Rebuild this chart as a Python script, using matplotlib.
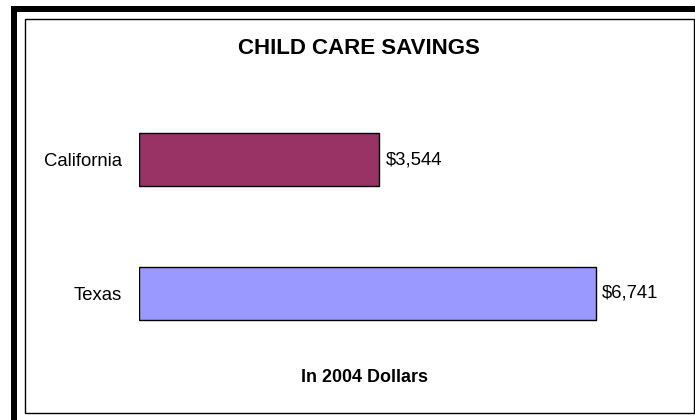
import matplotlib.pyplot as plt
from matplotlib.patches import Rectangle

states = ["California", "Texas"]
savings = [3544, 6741]
colors = ["#993366", "#9999FF"]

plt.rcParams['font.family'] = ['Liberation Sans', 'DejaVu Sans']

W, H = 695, 420
fig = plt.figure(figsize=(W / 100, H / 100), dpi=100)


def px(x, y):
    # pixel coords (from top-left) to figure fraction
    return x / W, 1 - y / H


# heavy black rule on left and top, thin frame inside
fig.patches.append(Rectangle(px(11, 420), 6 / W, 414 / H, transform=fig.transFigure,
                             facecolor="black", edgecolor="none"))
fig.patches.append(Rectangle(px(11, 12), 684 / W, 6 / H, transform=fig.transFigure,
                             facecolor="black", edgecolor="none"))
fig.patches.append(Rectangle(px(24.5, 412.5), 669.5 / W, 393.5 / H, transform=fig.transFigure,
                             facecolor="none", edgecolor="black", linewidth=1))

# bar area: value 0 at x=139, 6741 at x=596
xmax = 7500
scale = (596 - 139) / 6741
left, right = 139, 139 + xmax * scale
top, bottom = 92.9, 360.1
ax = fig.add_axes([left / W, 1 - bottom / H, (right - left) / W, (bottom - top) / H])

y = range(len(states))
ax.barh(y, savings, height=0.4, color=colors, edgecolor="black", linewidth=1)
for i, v in enumerate(savings):
    ax.annotate(f"${v:,}", (v, i), xytext=(4.5, 0), textcoords="offset points",
                va="center", ha="left", fontsize=13.3)

ax.set_xlim(0, xmax)
ax.set_ylim(1.5, -0.5)
ax.set_yticks(list(y), states, fontsize=13.3)
ax.tick_params(axis="y", length=0, pad=12)
ax.set_xticks([])
for s in ax.spines.values():
    s.set_visible(False)
ax.patch.set_visible(False)

fig.text(*px(358.5, 48), "CHILD CARE SAVINGS", ha="center", va="center",
         fontsize=16, fontweight="bold")
fig.text(*px(364, 378), "In 2004 Dollars", ha="center", va="center",
         fontsize=12.9, fontweight="bold")

fig.savefig("out.png", dpi=100, facecolor="white")
